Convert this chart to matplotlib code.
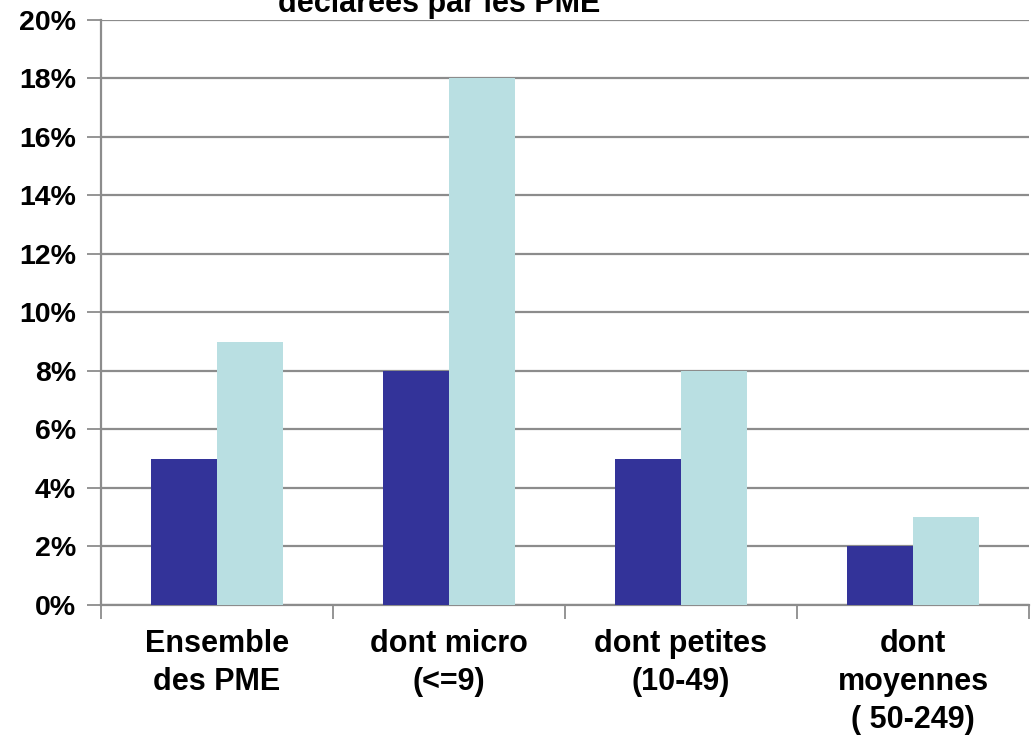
import numpy as np
import matplotlib.pyplot as plt
from matplotlib.ticker import PercentFormatter

plt.rcParams['font.family'] = ['Liberation Sans', 'DejaVu Sans']
plt.rcParams['font.weight'] = 'bold'

# data
categories = ["Ensemble\ndes PME", "dont micro\n(<=9)", "dont petites\n(10-49)",
              "dont\nmoyennes\n( 50-249)"]
serie_1 = [5, 8, 5, 2]
serie_2 = [9, 18, 8, 3]
yticks = np.arange(0, 21, 2)

dark = "#333399"
light = "#b9dfe2"
grid_col = "#8c8c8c"

fig = plt.figure(figsize=(10.33, 7.36), dpi=100)
ax = fig.add_axes([0.0978, 0.178, 0.8983, 0.7950])

x = np.arange(len(categories))
w = 0.285
ax.bar(x - w / 2, serie_1, width=w, color=dark, zorder=3)
ax.bar(x + w / 2, serie_2, width=w, color=light, zorder=3)

ax.set_xlim(-0.5, len(categories) - 0.5)
ax.set_ylim(0, 20)
ax.set_yticks(yticks)
ax.yaxis.set_major_formatter(PercentFormatter(decimals=0))
ax.grid(axis='y', color=grid_col, lw=1.6, zorder=0)

# category separators below the axis
ax.set_xticks(np.arange(len(categories) + 1) - 0.5)
ax.set_xticklabels([])
ax.set_xticks(x, minor=True)
ax.set_xticklabels(categories, minor=True, fontsize=22, fontweight='bold',
                   linespacing=1.36)
ax.tick_params(axis='x', which='minor', length=0, pad=17)
ax.tick_params(axis='x', which='major', length=10, width=1.3, color=grid_col)
ax.tick_params(axis='y', length=10, width=1.3, color=grid_col, labelsize=20.5, pad=8)
for lab in ax.get_yticklabels():
    lab.set_fontweight('bold')

for side in ['top', 'right']:
    ax.spines[side].set_visible(False)
for side in ['left', 'bottom']:
    ax.spines[side].set_color(grid_col)
    ax.spines[side].set_linewidth(1.6)

fig.text(0.425, 0.995, "déclarées par les PME", ha='center', va='center',
         fontsize=22, fontweight='bold')

fig.savefig("out.png", dpi=100)
